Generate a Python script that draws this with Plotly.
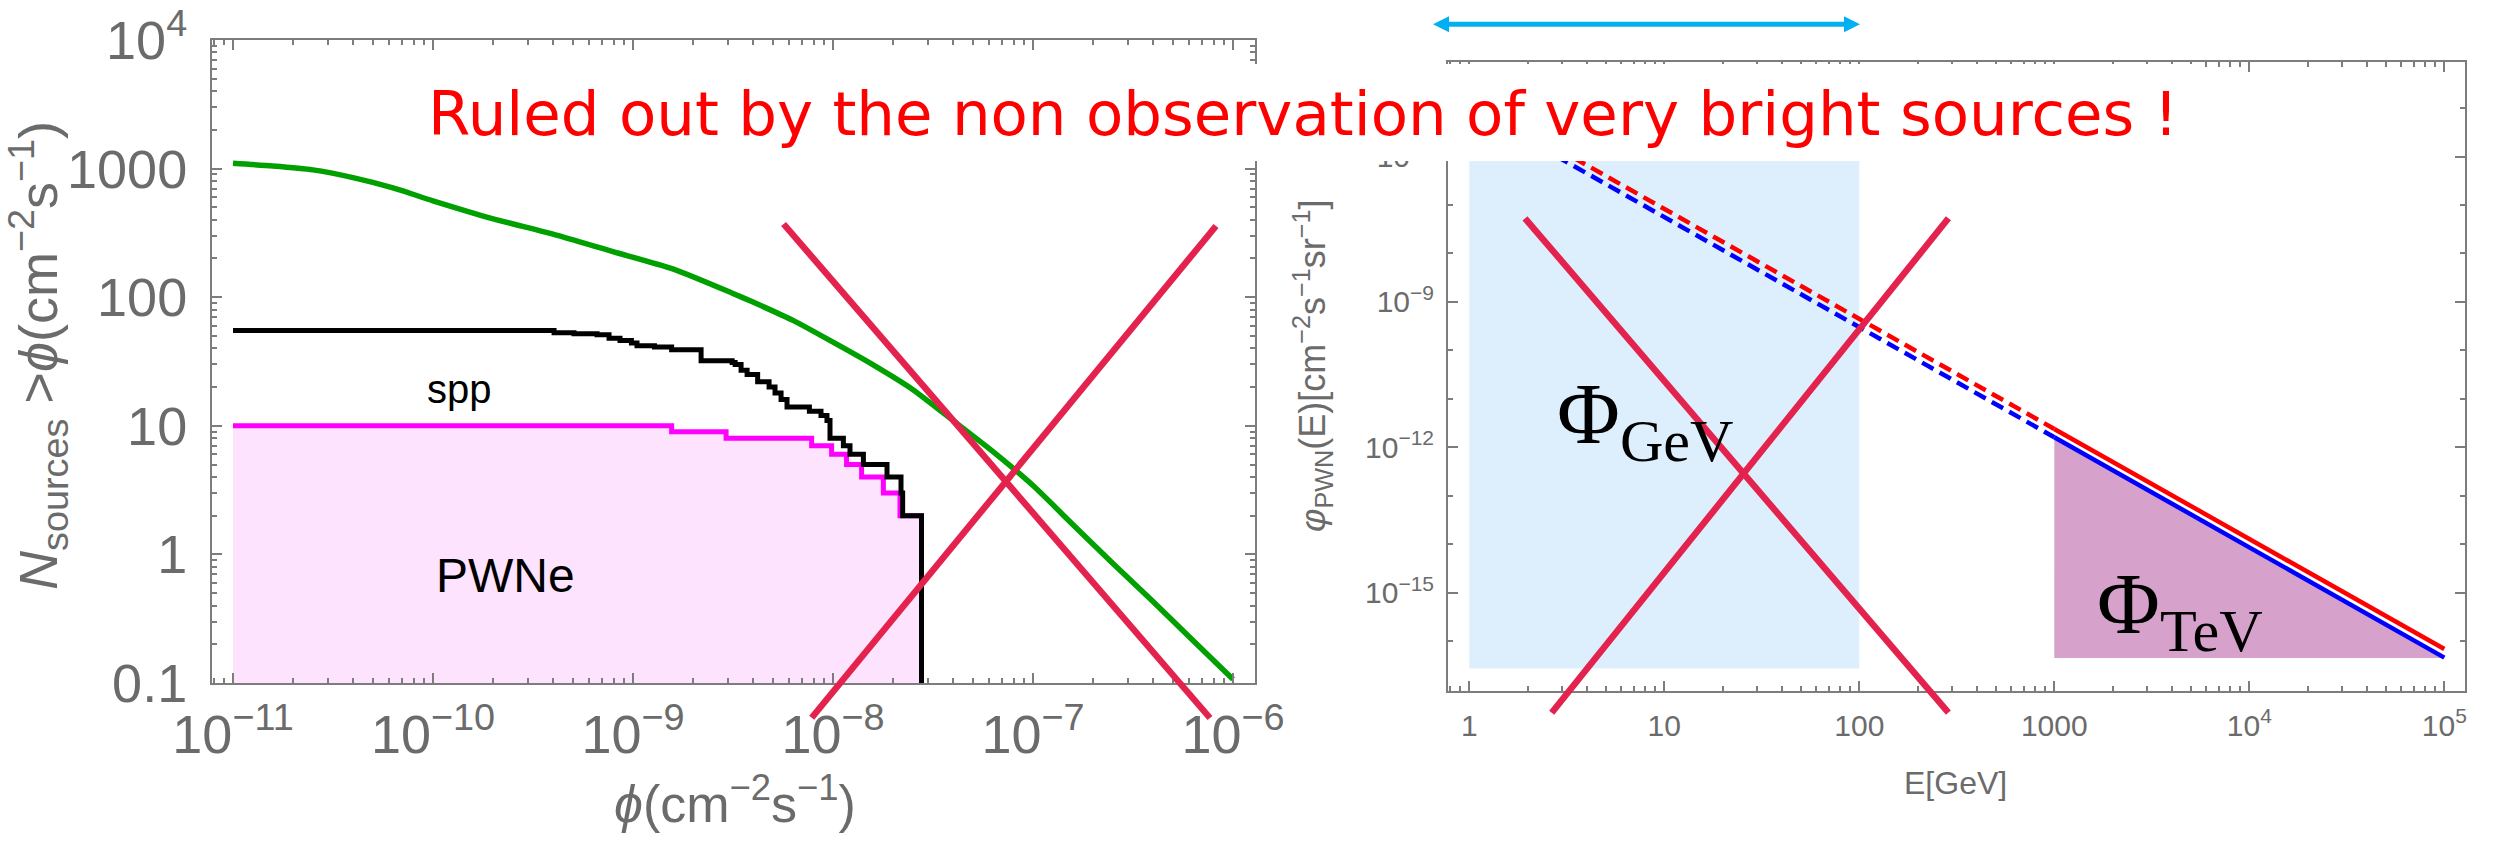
import plotly.graph_objects as go

W, H = 2496, 841

# ---------------- left panel: cumulative number of sources above a flux ----------------
# all sources (smooth population model)
GREEN_PHI = [1e-11, 1.58e-11, 2.51e-11, 3.98e-11, 6.31e-11, 1e-10, 2.0e-10, 3.98e-10, 7.94e-10,
             1.58e-9, 3.16e-9, 3.98e-9, 6.31e-9, 1e-8, 1.58e-8, 2.51e-8, 3.98e-8, 6.31e-8,
             1e-7, 1.58e-7, 2.51e-7, 3.98e-7, 6.31e-7, 1e-6]
GREEN_N = [1099, 1047, 977, 851, 708, 562, 407, 309, 226, 166, 107, 91.6, 66, 44.7, 29.9,
           19.1, 11.0, 6.3, 3.43, 1.71, 0.85, 0.43, 0.214, 0.107]

# spp sources (step function)
SPP_PHI = [1e-11, 4.03e-10, 5.07e-10, 6.61e-10, 7.59e-10, 8.61e-10, 9.82e-10, 1.047e-9, 1.28e-9,
           1.56e-9, 2.19e-9, 3.13e-9, 3.24e-9, 3.47e-9, 3.72e-9, 4.2e-9, 4.79e-9, 5.13e-9, 5.5e-9,
           5.89e-9, 7.62e-9, 8.71e-9, 9.33e-9, 9.66e-9, 1.127e-8, 1.216e-8, 1.419e-8, 1.862e-8,
           2.188e-8, 2.23e-8, 2.77e-8]
SPP_N = [55, 53, 52, 51, 48, 46, 44, 42, 41, 39, 32, 31, 30, 27, 25, 22, 20, 18, 16, 14,
         13, 12, 11, 8, 7, 6, 5, 4, 3, 2, 0]

# PWNe (step function, shaded)
PWNE_PHI = [1e-11, 1.56e-9, 2.92e-9, 7.82e-9, 9.84e-9, 1.169e-8, 1.39e-8, 1.786e-8, 2.163e-8, 2.77e-8]
PWNE_N = [10, 9, 8, 7, 6, 5, 4, 3, 2, 0]

LEFT_X_TICKS = [1e-11, 1e-10, 1e-9, 1e-8, 1e-7, 1e-6]
LEFT_X_TEXT = ["10<sup>−11</sup>", "10<sup>−10</sup>", "10<sup>−9</sup>", "10<sup>−8</sup>",
               "10<sup>−7</sup>", "10<sup>−6</sup>"]
LEFT_Y_TICKS = [0.1, 1, 10, 100, 1000, 1e4]
LEFT_Y_TEXT = ["0.1", "1", "10", "100", "1000", "10<sup>4</sup>"]

# ---------------- right panel: PWN spectra ----------------
SPEC_E = [1, 1000, 1e5]
SPEC_RED = [1.55e-5, 2.4e-12, 6.9e-17]
SPEC_BLUE = [1.05e-5, 1.62e-12, 4.6e-17]
GEV_BAND_E = [1, 100]
GEV_BAND_PHI = [2.75e-17, 1e-5]
TEV_FLOOR = 4.5e-17

RIGHT_X_TICKS = [1, 10, 100, 1000, 1e4, 1e5]
RIGHT_X_TEXT = ["1", "10", "100", "1000", "10<sup>4</sup>", "10<sup>5</sup>"]
RIGHT_Y_TICKS = [1e-15, 1e-12, 1e-9, 1e-6]
RIGHT_Y_TEXT = ["10<sup>−15</sup>", "10<sup>−12</sup>", "10<sup>−9</sup>", "10<sup>−6</sup>"]
RIGHT_Y_MINOR = [1e-17, 1e-16, 1e-14, 1e-13, 1e-11, 1e-10, 1e-8, 1e-7, 1e-5]

# colours
GRAY_AX = "#7d7d7d"
GRAY_TXT = "#6b6b6b"
CROSS = "#e3234e"
ZERO_FLOOR = 1e-3  # where a count of zero is drawn on the log axis


def px(x):
    return x / W


def py(y):
    return 1 - y / H


def minor_vals(k0, k1, extra=()):
    vals = list(extra)
    for k in range(k0, k1 + 1):
        for m in range(2, 10):
            vals.append(m * 10.0 ** k)
    return vals


fig = go.Figure()

# PWNe shaded area
fill_x = PWNE_PHI + [PWNE_PHI[0]]
fill_y = [max(n, ZERO_FLOOR) for n in PWNE_N] + [ZERO_FLOOR]
fig.add_trace(go.Scatter(x=fill_x, y=fill_y, mode="lines", line=dict(width=0, shape="hv"),
                         fill="toself", fillcolor="#fde3fd", hoverinfo="skip",
                         xaxis="x", yaxis="y", showlegend=False))
fig.add_trace(go.Scatter(x=PWNE_PHI, y=[max(n, ZERO_FLOOR) for n in PWNE_N], mode="lines",
                         line=dict(color="#ff00ff", width=5, shape="hv"),
                         xaxis="x", yaxis="y", showlegend=False))
fig.add_trace(go.Scatter(x=SPP_PHI, y=[max(n, ZERO_FLOOR) for n in SPP_N], mode="lines",
                         line=dict(color="#000000", width=5, shape="hv"),
                         xaxis="x", yaxis="y", showlegend=False))
fig.add_trace(go.Scatter(x=GREEN_PHI, y=GREEN_N, mode="lines",
                         line=dict(color="#00a000", width=5.5, shape="spline", smoothing=0.6),
                         xaxis="x", yaxis="y", showlegend=False))

# right panel: GeV band, TeV integral, spectra
fig.add_trace(go.Scatter(x=[GEV_BAND_E[0], GEV_BAND_E[1], GEV_BAND_E[1], GEV_BAND_E[0]],
                         y=[GEV_BAND_PHI[0], GEV_BAND_PHI[0], GEV_BAND_PHI[1], GEV_BAND_PHI[1]],
                         mode="lines", line=dict(width=0), fill="toself", fillcolor="#ddeefd",
                         hoverinfo="skip", xaxis="x2", yaxis="y2", showlegend=False))
fig.add_trace(go.Scatter(x=[SPEC_E[1], SPEC_E[2], SPEC_E[2], SPEC_E[1]],
                         y=[SPEC_BLUE[1], SPEC_BLUE[2], TEV_FLOOR, TEV_FLOOR],
                         mode="lines", line=dict(width=0), fill="toself", fillcolor="#d6a2cb",
                         hoverinfo="skip", xaxis="x2", yaxis="y2", showlegend=False))
for vals, col in ((SPEC_RED, "#ff0000"), (SPEC_BLUE, "#0000ff")):
    fig.add_trace(go.Scatter(x=SPEC_E[:2], y=vals[:2], mode="lines",
                             line=dict(color=col, width=4.5, dash="13px,7px"),
                             xaxis="x2", yaxis="y2", showlegend=False))
    fig.add_trace(go.Scatter(x=SPEC_E[1:], y=vals[1:], mode="lines",
                             line=dict(color=col, width=4.5),
                             xaxis="x2", yaxis="y2", showlegend=False))

axis_common = dict(type="log", showgrid=False, zeroline=False, showline=True, automargin=False,
                   linecolor=GRAY_AX, linewidth=2, mirror="ticks", ticks="inside",
                   tickcolor=GRAY_AX, tickwidth=2, ticklen=10, tickmode="array")

fig.update_layout(
    width=W, height=H, margin=dict(l=0, r=0, t=0, b=0, pad=0, autoexpand=False),
    paper_bgcolor="white", plot_bgcolor="white", showlegend=False,
    xaxis=dict(axis_common, domain=[px(212), px(1255)], range=[-11.105, -5.89],
               tickvals=LEFT_X_TICKS, ticktext=LEFT_X_TEXT,
               tickfont=dict(family="Liberation Sans", size=54, color=GRAY_TXT),
               ticklabelstandoff=3, anchor="y",
               minor=dict(ticks="inside", ticklen=5, tickwidth=1.5, tickcolor=GRAY_AX,
                          tickvals=minor_vals(-11, -7, extra=(8e-12, 9e-12)))),
    yaxis=dict(axis_common, domain=[py(683), py(40)], range=[-1, 4],
               tickvals=LEFT_Y_TICKS, ticktext=LEFT_Y_TEXT,
               tickfont=dict(family="Liberation Sans", size=54, color=GRAY_TXT),
               ticklabelstandoff=12, anchor="x",
               minor=dict(ticks="inside", ticklen=5, tickwidth=1.5, tickcolor=GRAY_AX,
                          tickvals=minor_vals(-1, 3))),
    xaxis2=dict(axis_common, domain=[px(1448), px(2465)], range=[-0.109, 5.106],
                tickvals=RIGHT_X_TICKS, ticktext=RIGHT_X_TEXT,
                tickfont=dict(family="Liberation Sans", size=30, color=GRAY_TXT),
                ticklabelstandoff=7, anchor="y2",
                minor=dict(ticks="inside", ticklen=5, tickwidth=1.5, tickcolor=GRAY_AX,
                           tickvals=minor_vals(0, 4, extra=(0.8, 0.9)))),
    yaxis2=dict(axis_common, domain=[py(690.7), py(62)], range=[-17.02, -4.05],
                tickvals=RIGHT_Y_TICKS, ticktext=RIGHT_Y_TEXT,
                tickfont=dict(family="Liberation Sans", size=30, color=GRAY_TXT),
                ticklabelstandoff=6, anchor="x2",
                minor=dict(ticks="inside", ticklen=5, tickwidth=1.5, tickcolor=GRAY_AX,
                           tickvals=RIGHT_Y_MINOR)),
)

shapes = []
# white panel behind the headline
shapes.append(dict(type="rect", xref="paper", yref="paper", x0=px(400), x1=px(2200),
                   y0=py(161), y1=py(64), fillcolor="white", line=dict(width=0), layer="above"))
# crossing-out strokes
for (x0, y0, x1, y1) in [(783.6, 224, 1210, 718), (811.7, 717.7, 1216, 226),
                         (1525, 218.3, 1948.4, 712.7), (1551.7, 712.7, 1948.4, 218.3)]:
    shapes.append(dict(type="line", xref="paper", yref="paper", x0=px(x0), y0=py(y0),
                       x1=px(x1), y1=py(y1), line=dict(color=CROSS, width=6.5), layer="above"))
# double-headed arrow marking the GeV range
ARROW_L, ARROW_R, ARROW_Y, HEAD_L, HEAD_H = 1433, 1860, 24.3, 16, 8
shapes.append(dict(type="line", xref="paper", yref="paper", x0=px(ARROW_L + 10), y0=py(ARROW_Y),
                   x1=px(ARROW_R - 10), y1=py(ARROW_Y), line=dict(color="#00b0f0", width=5),
                   layer="above"))
for tip, d in ((ARROW_L, 1), (ARROW_R, -1)):
    path = "M {:.5f},{:.5f} L {:.5f},{:.5f} L {:.5f},{:.5f} Z".format(
        px(tip), py(ARROW_Y), px(tip + d * HEAD_L), py(ARROW_Y - HEAD_H),
        px(tip + d * HEAD_L), py(ARROW_Y + HEAD_H))
    shapes.append(dict(type="path", xref="paper", yref="paper", path=path,
                       fillcolor="#00b0f0", line=dict(width=0), layer="above"))
fig.update_layout(shapes=shapes)


def note(text, x, y, size, color="black", family="Liberation Sans", angle=0, **kw):
    fig.add_annotation(text=text, x=px(x), y=py(y), xref="paper", yref="paper",
                       showarrow=False, textangle=angle, xanchor="center", yanchor="middle",
                       font=dict(family=family, size=size, color=color), **kw)


note("Ruled out by the non observation of very bright sources !", 1303, 114, 61,
     color="#ff0000", family="DejaVu Sans")
note("<i>N</i><sub>sources</sub> ><i>ϕ</i>(cm<sup>−2</sup>s<sup>−1</sup>)", 38, 356, 54,
     color=GRAY_TXT, angle=-90)
note("<i>ϕ</i>(cm<sup>−2</sup>s<sup>−1</sup>)", 735, 800, 52, color=GRAY_TXT)
note("spp", 459, 389, 40)
note("PWNe", 505, 575, 48)
note("<i>φ</i><sub>PWN</sub>(E)[cm<sup>−2</sup>s<sup>−1</sup>sr<sup>−1</sup>]", 1312, 366, 36,
     color=GRAY_TXT, angle=-90)
note("E[GeV]", 1955, 783, 32, color=GRAY_TXT)
note("Φ<sub>GeV</sub>", 1645, 420, 86, family="Liberation Serif")
note("Φ<sub>TeV</sub>", 2180, 610, 86, family="Liberation Serif")

fig.write_html("out.html")
